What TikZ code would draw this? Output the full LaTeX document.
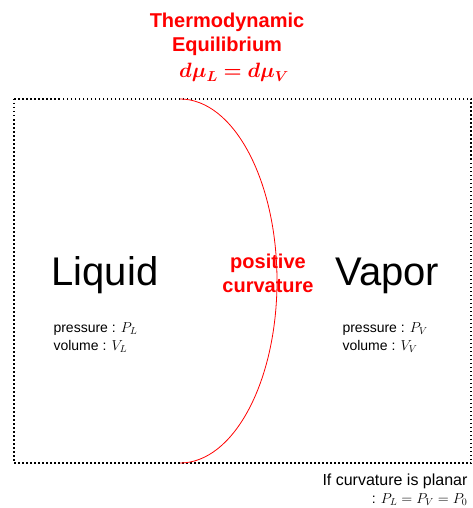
\documentclass[tikz,border=0pt]{standalone}
\usepackage{amsmath}
\usepackage{bm}
\usepackage{fontspec}
\setmainfont{Liberation Sans}
\usetikzlibrary{positioning}

\tikzset{
    redtext/.style={text=red, font=\fontsize{20}{24}\selectfont\bfseries},
    phase/.style={font=\fontsize{40}{48}\selectfont},
    prop/.style={font=\fontsize{14}{17}\selectfont},
    boxline/.style={line width=1.5pt, dash pattern=on 1.5pt off 2.5pt}
}

\begin{document}
\begin{tikzpicture}[x=1pt, y=-1pt]
    \useasboundingbox (0,0) rectangle (472,508);

    % Title above the box
    \node[redtext, anchor=base] (thermo) at (227,28) {Thermodynamic};
    \node[redtext, anchor=base] (equil) at (227,52) {Equilibrium};
    \node[text=red, font=\fontsize{22}{26}\selectfont, anchor=base] (eq) at (234,78)
        {$\boldsymbol{d\mu_L = d\mu_V}$};

    % System boundary
    \draw[boxline] (14,99) rectangle (471,463);

    % Interface
    \draw[red, line width=0.8pt] (180,99)
        arc[start angle=-90, end angle=90, x radius=97, y radius=182];

    % Phases
    \node[phase, anchor=base west] (liquid) at (48,285) {Liquid};
    \node[phase, anchor=base west] (vapor) at (332,285) {Vapor};

    % Phase properties
    \node[prop, anchor=base west] (pl) at (50,332) {pressure : $P_L$};
    \node[prop, anchor=base west] (vl) at (50,350) {volume : $V_L$};
    \node[prop, anchor=base west] (pv) at (339,332) {pressure : $P_V$};
    \node[prop, anchor=base west] (vv) at (339,350) {volume : $V_V$};

    % Curvature label
    \node[redtext, anchor=base] (pos) at (268,268) {positive};
    \node[redtext, anchor=base] (curv) at (268,292) {curvature};

    % Planar case note
    \node[font=\fontsize{16}{18}\selectfont, anchor=base east] (note) at (471,485)
        {If curvature is planar};
    \node[font=\fontsize{14}{17}\selectfont, anchor=base east] (noteeq) at (471,503)
        {: $P_L = P_V = P_0$};
\end{tikzpicture}
\end{document}
